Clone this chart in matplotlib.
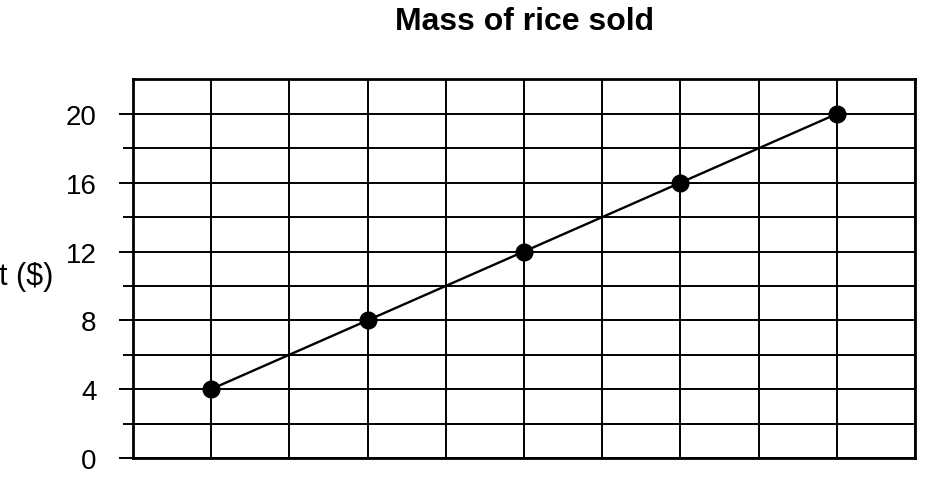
import numpy as np
import matplotlib.pyplot as plt

plt.rcParams['font.family'] = ['Liberation Sans', 'DejaVu Sans']

# points sit on every second vertical grid line
x_pos = [1, 3, 5, 7, 9]
cost = [4, 8, 12, 16, 20]
y_ticks = [0, 4, 8, 12, 16, 20]

fig = plt.figure(figsize=(9.29, 4.81), dpi=100)
ax = fig.add_axes([0.143, 0.0457, 0.842, 0.787])

ax.plot(x_pos, cost, color='black', lw=1.7, marker='o', markersize=12, zorder=3)

ax.set_xlim(0, 10)
ax.set_ylim(0, 22)
ax.set_xticks(np.arange(0, 11, 1))
ax.set_xticklabels([])
ax.set_yticks(y_ticks)
ax.set_yticks(np.arange(2, 22, 4), minor=True)
ax.tick_params(axis='x', length=0)
ax.tick_params(axis='y', which='major', length=10, width=1.4, pad=16, labelsize=20)
ax.tick_params(axis='y', which='minor', length=7, width=1.4)
ax.grid(True, which='both', color='black', lw=1.4)
for s in ax.spines.values():
    s.set_linewidth(2)

fig.text(0.565, 0.955, 'Mass of rice sold', ha='center', va='center',
         fontsize=23, fontweight='bold')
# the axis label runs past the left edge of the page, as in the scan
fig.text(0.057, 0.424, 'Cost ($)', ha='right', va='center', fontsize=22)

fig.savefig('out.png', dpi=100)
